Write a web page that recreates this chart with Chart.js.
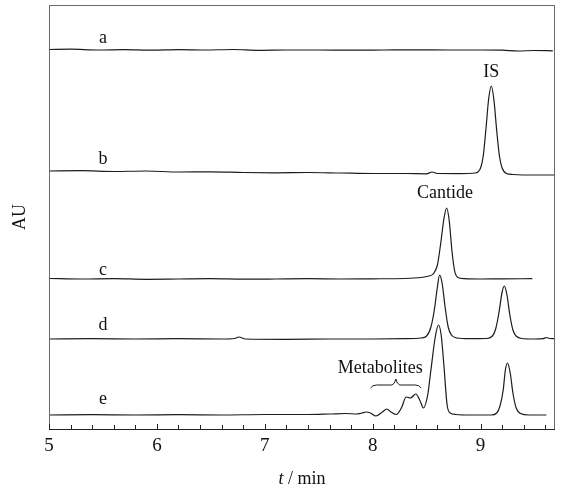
<!DOCTYPE html>
<html>
<head>
<meta charset="utf-8">
<script src="https://cdn.jsdelivr.net/npm/chart.js@4.4.0/dist/chart.umd.min.js"></script>
<style>
  html, body { margin: 0; padding: 0; background: #fff; }
  #wrap { width: 564px; height: 490px; }
</style>
</head>
<body>
<div id="wrap"><canvas id="hplc"></canvas></div>
<script>
// ------------ DATA ------------

const traceNames = ['a', 'b', 'c', 'd', 'e'];
// baseline of each trace on the stacked AU axis
const traceOffsets = [379, 258, 150, 90, 14];

const timeA = [5.0, 5.2, 5.45, 5.7, 5.95, 6.2, 6.45, 6.7, 6.95, 7.2, 7.5, 7.8, 8.1, 8.4, 8.7, 9.0, 9.2, 9.35, 9.5, 9.67];
const signalA = [0.5, 0.8, 0, 0.4, -0.2, 0.3, 0, 0.5, -0.3, 0, 0, -0.2, 0, 0.2, 0, 0, -0.2, -1, -0.5, -0.8];

const timeB = [5.0, 5.3, 5.6, 5.9, 6.2, 6.5, 6.8, 7.1, 7.4, 7.7, 8.0, 8.3, 8.5, 8.55, 8.6, 8.8, 8.95, 9.0, 9.025, 9.05, 9.075, 9.1, 9.125, 9.15, 9.175, 9.2, 9.24, 9.3, 9.5, 9.69];
const signalB = [0, 0.3, -0.5, 0, -1, -0.8, -1.5, -1.8, -1.5, -2, -2.5, -2.5, -2.8, -1, -2.5, -2.6, -2, 3, 15, 42, 72, 85, 70, 40, 15, 3, -2.5, -3.5, -4, -4];

const timeC = [5.0, 5.3, 5.6, 5.9, 6.2, 6.5, 6.8, 7.1, 7.4, 7.7, 8.0, 8.3, 8.45, 8.52, 8.56, 8.6, 8.63, 8.66, 8.685, 8.71, 8.735, 8.76, 8.79, 8.85, 9.0, 9.2, 9.48];
const signalC = [0.5, 0, 0.4, -0.3, 0, 0.3, -0.2, 0, 0.3, 0, 0.2, 0.5, 1.5, 3, 5, 14, 35, 60, 71, 58, 28, 8, 1.5, 0.3, 0, 0.2, 0.3];

const timeD = [5.0, 5.4, 5.8, 6.2, 6.6, 6.72, 6.76, 6.82, 7.2, 7.6, 8.0, 8.3, 8.45, 8.5, 8.54, 8.57, 8.6, 8.62, 8.645, 8.67, 8.7, 8.73, 8.78, 8.9, 9.05, 9.11, 9.14, 9.17, 9.2, 9.22, 9.245, 9.27, 9.3, 9.33, 9.38, 9.5, 9.58, 9.61, 9.64, 9.69];
const signalD = [0, 0.3, 0, 0.3, 0, 0.5, 2, 0, -0.3, 0, 0, 0.3, 1, 3, 12, 28, 52, 64, 55, 33, 12, 4, 1, 0.3, 0.5, 3, 10, 26, 47, 53, 44, 25, 9, 3, 0.5, 0, 0.3, 1.5, 0.5, 0.3];

const timeE = [5.0, 5.4, 5.8, 6.2, 6.6, 7.0, 7.4, 7.6, 7.75, 7.85, 7.9, 7.94, 7.98, 8.03, 8.09, 8.13, 8.17, 8.22, 8.27, 8.31, 8.35, 8.40, 8.44, 8.47, 8.51, 8.54, 8.58, 8.61, 8.635, 8.66, 8.69, 8.72, 8.77, 8.9, 9.1, 9.15, 9.18, 9.21, 9.23, 9.25, 9.275, 9.30, 9.33, 9.37, 9.45, 9.61];
const signalE = [0, 0.3, 0, 0.3, 0, 0.5, 0.5, 1, 1.5, 1, 2, 3, 2, -1, 3, 6, 3, 0.5, 8, 18, 17, 21, 14, 7, 20, 45, 78, 90, 80, 50, 10, 2, 0.5, 0, 0, 2, 9, 25, 45, 52, 42, 22, 7, 1.5, 0, 0];

const traceTimes = [timeA, timeB, timeC, timeD, timeE];
const traceSignals = [signalA, signalB, signalC, signalD, signalE];

const xTicks = [5, 6, 7, 8, 9];

// peak annotations: text, retention time, height on AU axis
const peakLabels = [
    { text: 'IS', t: 9.1, y: 357 },
    { text: 'Cantide', t: 8.67, y: 236 },
    { text: 'Metabolites', t: 8.07, y: 61 }
];
const traceLabelTime = 5.5;
const traceLabelY = [391, 270, 159, 104, 30];
const metaboliteBrace = { from: 7.98, to: 8.45, y: 44 };

// ------------ CHART ------------

const SERIF = '"Liberation Serif", "DejaVu Serif", serif';
const INK = '#1c1c1c';

const datasets = traceNames.map(function(name, i) {
    return {
        label: name,
        data: traceTimes[i].map(function(t, j) {
            return { x: t, y: traceSignals[i][j] + traceOffsets[i] };
        }),
        borderColor: INK,
        borderWidth: 1.2,
        pointRadius: 0,
        fill: false,
        cubicInterpolationMode: 'monotone'
    };
});

const decorations = {
    id: 'decorations',
    afterDraw: function(chart) {
        const ctx = chart.ctx;
        const area = chart.chartArea;
        const xs = chart.scales.x;
        const ys = chart.scales.y;
        ctx.save();

        // frame
        ctx.strokeStyle = '#6a6a6a';
        ctx.lineWidth = 1;
        ctx.strokeRect(area.left + 0.5, area.top + 0.5, area.right - area.left - 1, area.bottom - area.top);
        ctx.strokeStyle = '#222';
        ctx.beginPath();
        ctx.moveTo(area.left, area.bottom + 0.5);
        ctx.lineTo(area.right, area.bottom + 0.5);
        ctx.stroke();

        // inward ticks every 0.2 min
        for (let k = 0; k <= 23; k++) {
            const t = 5 + k * 0.2;
            const px = Math.round(xs.getPixelForValue(t)) + 0.5;
            ctx.beginPath();
            ctx.moveTo(px, area.bottom);
            ctx.lineTo(px, area.bottom - (k % 5 === 0 ? 5 : 4));
            ctx.stroke();
        }

        ctx.fillStyle = '#111';
        ctx.textAlign = 'center';
        ctx.textBaseline = 'middle';
        ctx.font = '18px ' + SERIF;

        // trace letters
        traceNames.forEach(function(name, i) {
            ctx.fillText(name, xs.getPixelForValue(traceLabelTime), ys.getPixelForValue(traceLabelY[i]));
        });

        // peak names
        peakLabels.forEach(function(p) {
            ctx.fillText(p.text, xs.getPixelForValue(p.t), ys.getPixelForValue(p.y));
        });

        // brace over metabolites
        const x1 = xs.getPixelForValue(metaboliteBrace.from);
        const x2 = xs.getPixelForValue(metaboliteBrace.to);
        const xm = (x1 + x2) / 2;
        const by = ys.getPixelForValue(metaboliteBrace.y);
        ctx.strokeStyle = INK;
        ctx.lineWidth = 1;
        ctx.beginPath();
        ctx.moveTo(x1, by + 3);
        ctx.quadraticCurveTo(x1 + 2, by, x1 + 6, by);
        ctx.lineTo(xm - 4, by);
        ctx.quadraticCurveTo(xm - 1, by - 1, xm, by - 6);
        ctx.quadraticCurveTo(xm + 1, by - 1, xm + 4, by);
        ctx.lineTo(x2 - 6, by);
        ctx.quadraticCurveTo(x2 - 2, by, x2, by + 3);
        ctx.stroke();

        // axis titles
        ctx.fillStyle = '#111';
        ctx.font = '18px ' + SERIF;
        ctx.save();
        ctx.translate(20, (area.top + area.bottom) / 2);
        ctx.rotate(-Math.PI / 2);
        ctx.fillText('AU', 0, 0);
        ctx.restore();

        const cx = (area.left + area.right) / 2;
        const ty = 479;
        ctx.font = 'italic 18px ' + SERIF;
        const wT = ctx.measureText('t').width;
        ctx.font = '18px ' + SERIF;
        const rest = ' / min';
        const wR = ctx.measureText(rest).width;
        const start = cx - (wT + wR) / 2;
        ctx.textAlign = 'left';
        ctx.font = 'italic 18px ' + SERIF;
        ctx.fillText('t', start, ty);
        ctx.font = '18px ' + SERIF;
        ctx.fillText(rest, start + wT, ty);

        ctx.restore();
    }
};

const config = {
    type: 'line',
    data: { datasets: datasets },
    options: {
        responsive: true,
        maintainAspectRatio: false,
        animation: false,
        parsing: false,
        layout: {
            padding: { left: 49, right: 9, top: 5, bottom: 0 }
        },
        scales: {
            x: {
                type: 'linear',
                min: 5,
                max: 9.69,
                grid: { display: false, drawTicks: false },
                border: { display: false },
                afterBuildTicks: function(scale) {
                    scale.ticks = xTicks.map(function(v) { return { value: v }; });
                },
                afterFit: function(scale) { scale.height = 61; },
                ticks: {
                    padding: 6,
                    color: '#111',
                    maxRotation: 0,
                    font: { family: SERIF, size: 19 },
                    callback: function(v) { return String(v); }
                }
            },
            y: {
                display: false,
                min: 0,
                max: 424
            }
        },
        plugins: {
            legend: { display: false },
            tooltip: { enabled: false }
        }
    },
    plugins: [decorations]
};

const ctx = document.getElementById('hplc').getContext('2d');
const hplcChart = new Chart(ctx, config);
</script>
</body>
</html>
